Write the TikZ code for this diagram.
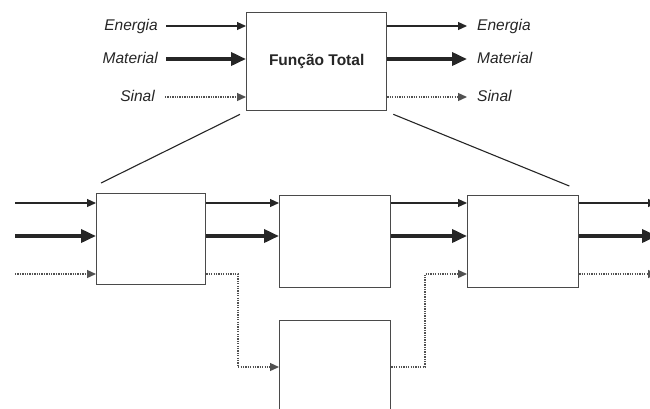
\documentclass[tikz,border=0pt]{standalone}
\usepackage{fontspec}
\setmainfont{Liberation Sans}
\usetikzlibrary{arrows.meta,calc}
\definecolor{ink}{HTML}{262626}
\definecolor{frame}{HTML}{4A4A4A}
\tikzset{
  blk/.style={draw=frame, line width=1.3pt, fill=white, inner sep=0pt, anchor=north west},
  lbl/.style={font=\fontsize{15.5}{18}\selectfont\itshape, text=ink, inner sep=0pt, text height=12pt, text depth=3pt},
  energy/.style={draw=ink, line width=1.2pt, -{Triangle[length=9pt,width=8pt]}},
  matter/.style={draw=ink, line width=3.6pt, -{Triangle[length=15pt,width=13pt]}},
  signal/.style={draw=ink!80, line width=1.3pt, dash pattern=on 1.3pt off 1.1pt, -{Triangle[length=9pt,width=8pt]}},
  zoomline/.style={draw=ink, line width=1.1pt}
}
\begin{document}
\begin{tikzpicture}[x=1pt,y=-1pt]
\useasboundingbox (0,0) rectangle (650,408);
\clip (0,0) rectangle (650,408);

% overall function
\node[blk, minimum width=140pt, minimum height=98pt] (F) at (246,12) {};
\node[font=\fontsize{15.5}{18}\selectfont\bfseries, text=ink] (Ft) at (F.center) {Função Total};

% inputs of the overall function
\node[lbl, anchor=east] (inE) at (158,26) {Energia};
\node[lbl, anchor=east] (inM) at (158,59) {Material};
\node[lbl, anchor=east] (inS) at (155,97) {Sinal};
\draw[energy] ([xshift=8pt]inE.east) -- (F.west |- inE.east);
\draw[matter] ([xshift=8pt]inM.east) -- (F.west |- inM.east);
\draw[signal] ([xshift=10pt]inS.east) -- (F.west |- inS.east);

% outputs of the overall function
\node[lbl, anchor=west] (outE) at (477,26) {Energia};
\node[lbl, anchor=west] (outM) at (477,59) {Material};
\node[lbl, anchor=west] (outS) at (477,97) {Sinal};
\draw[energy] (F.east |- outE.west) -- ([xshift=-10pt]outE.west);
\draw[matter] (F.east |- outM.west) -- ([xshift=-10pt]outM.west);
\draw[signal] (F.east |- outS.west) -- ([xshift=-10pt]outS.west);

% sub-functions
\node[blk, minimum width=109pt, minimum height=91pt] (b1) at (96,193) {};
\node[blk, minimum width=111pt, minimum height=92pt] (b2) at (279,195) {};
\node[blk, minimum width=111pt, minimum height=92pt] (b3) at (467,195) {};
\node[blk, minimum width=111pt, minimum height=120pt] (b4) at (279,320) {};

% expansion lines
\draw[zoomline] ([shift={(-6,3)}]F.south west) -- ([shift={(5,-10)}]b1.north west);
\draw[zoomline] ([shift={(6,3)}]F.south east) -- ([shift={(-10,-9)}]b3.north east);

% free ends of the chain
\coordinate (iE) at (15,203);
\coordinate (iM) at (15,236);
\coordinate (iS) at (15,274);
\coordinate (oE) at (657,203);
\coordinate (oM) at (657,236);
\coordinate (oS) at (657,274);

% flows into the first block
\draw[energy] (iE) -- (b1.west |- iE);
\draw[matter] (iM) -- (b1.west |- iM);
\draw[signal] (iS) -- (b1.west |- iS);

% first block to second block
\draw[energy] (b1.east |- iE) -- (b2.west |- iE);
\draw[matter] (b1.east |- iM) -- (b2.west |- iM);

% second block to third block
\draw[energy] (b2.east |- iE) -- (b3.west |- iE);
\draw[matter] (b2.east |- iM) -- (b3.west |- iM);

% signal path through the lower block
\draw[signal] (b1.east |- iS) -- (238,274) -- (238,367) -- (b4.west |- 0,367);
\draw[signal] (b4.east |- 0,367) -- (425,367) -- (425,274) -- (b3.west |- iS);

% outputs of the third block
\draw[energy] (b3.east |- oE) -- (oE);
\draw[matter] (b3.east |- oM) -- (oM);
\draw[signal] (b3.east |- oS) -- (oS);
\end{tikzpicture}
\end{document}
